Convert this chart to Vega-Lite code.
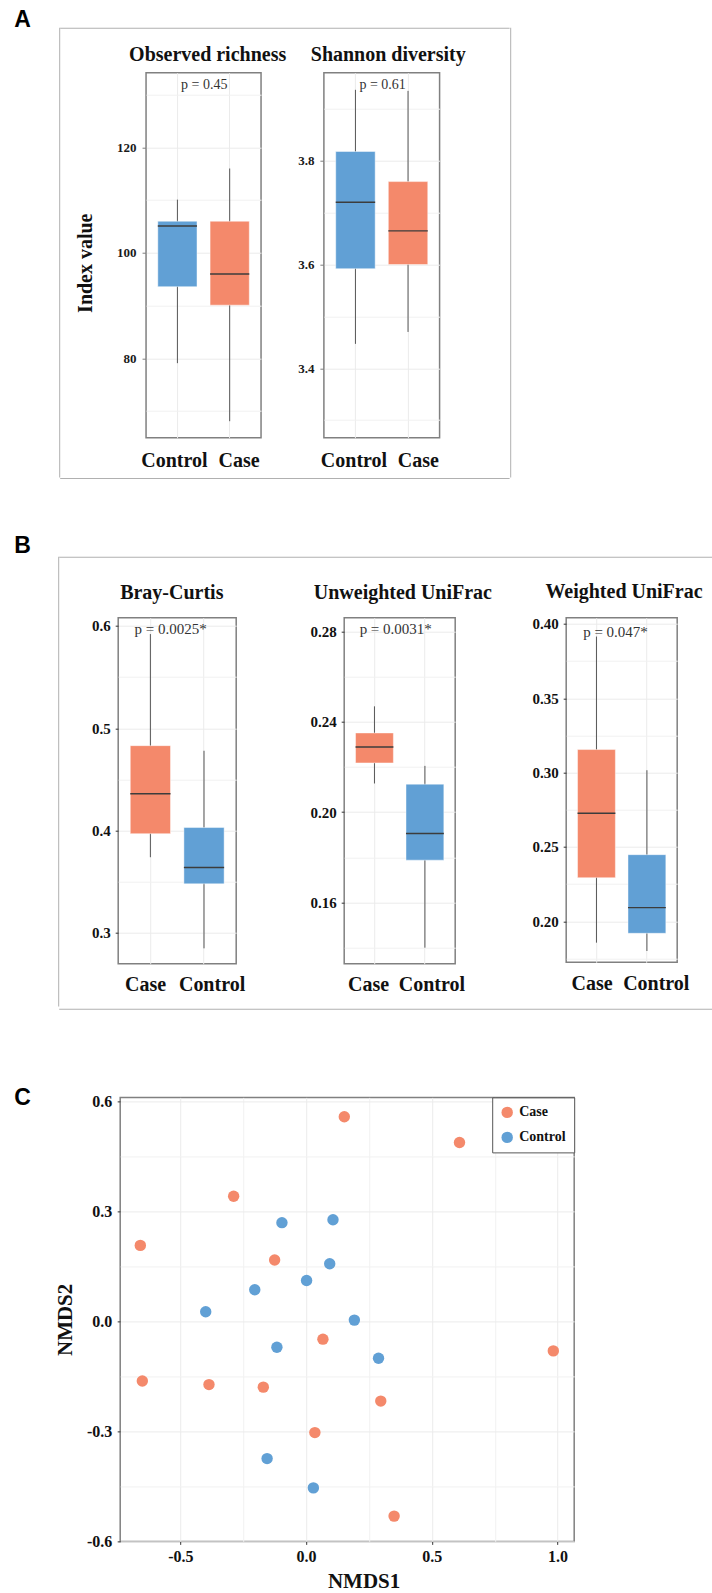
{
  "$schema": "https://vega.github.io/schema/vega-lite/v6.json",
  "padding": {"left": 14.2, "top": 8.7, "right": 0, "bottom": 0},
  "background": "white",
  "datasets": {
    "box": [
      {"metric": "Observed richness", "group": "Control", "lower": 79.1, "q1": 93.6, "median": 105.1, "q3": 106.0, "upper": 110.1},
      {"metric": "Observed richness", "group": "Case", "lower": 68.1, "q1": 90.1, "median": 96.0, "q3": 106.0, "upper": 116.0},
      {"metric": "Shannon diversity", "group": "Control", "lower": 3.447, "q1": 3.592, "median": 3.72, "q3": 3.818, "upper": 3.937},
      {"metric": "Shannon diversity", "group": "Case", "lower": 3.47, "q1": 3.6, "median": 3.665, "q3": 3.76, "upper": 3.935},
      {"metric": "Bray-Curtis", "group": "Case", "lower": 0.374, "q1": 0.397, "median": 0.436, "q3": 0.483, "upper": 0.592},
      {"metric": "Bray-Curtis", "group": "Control", "lower": 0.285, "q1": 0.348, "median": 0.364, "q3": 0.403, "upper": 0.478},
      {"metric": "Unweighted UniFrac", "group": "Case", "lower": 0.2127, "q1": 0.2218, "median": 0.2289, "q3": 0.2351, "upper": 0.2469},
      {"metric": "Unweighted UniFrac", "group": "Control", "lower": 0.1399, "q1": 0.1787, "median": 0.1905, "q3": 0.2124, "upper": 0.2205},
      {"metric": "Weighted UniFrac", "group": "Case", "lower": 0.1856, "q1": 0.2293, "median": 0.2727, "q3": 0.3155, "upper": 0.3915},
      {"metric": "Weighted UniFrac", "group": "Control", "lower": 0.18, "q1": 0.1919, "median": 0.2092, "q3": 0.2448, "upper": 0.3016}
    ],
    "pvals": [
      {"metric": "Observed richness", "p": "p = 0.45", "label_y": 131.1},
      {"metric": "Shannon diversity", "p": "p = 0.61", "label_y": 3.939},
      {"metric": "Bray-Curtis", "p": "p = 0.0025*", "label_y": 0.592},
      {"metric": "Unweighted UniFrac", "p": "p = 0.0031*", "label_y": 0.279},
      {"metric": "Weighted UniFrac", "p": "p = 0.047*", "label_y": 0.3915}
    ],
    "nmds": [
      {"group": "Case", "NMDS1": 0.152, "NMDS2": 0.559},
      {"group": "Case", "NMDS1": 0.61, "NMDS2": 0.489},
      {"group": "Case", "NMDS1": -0.288, "NMDS2": 0.342},
      {"group": "Case", "NMDS1": -0.659, "NMDS2": 0.208},
      {"group": "Case", "NMDS1": -0.125, "NMDS2": 0.168},
      {"group": "Case", "NMDS1": 0.067, "NMDS2": -0.048},
      {"group": "Case", "NMDS1": 0.983, "NMDS2": -0.08},
      {"group": "Case", "NMDS1": -0.651, "NMDS2": -0.162},
      {"group": "Case", "NMDS1": -0.386, "NMDS2": -0.172},
      {"group": "Case", "NMDS1": -0.17, "NMDS2": -0.179},
      {"group": "Case", "NMDS1": 0.297, "NMDS2": -0.217},
      {"group": "Case", "NMDS1": 0.035, "NMDS2": -0.303},
      {"group": "Case", "NMDS1": 0.35, "NMDS2": -0.531},
      {"group": "Control", "NMDS1": -0.096, "NMDS2": 0.27},
      {"group": "Control", "NMDS1": 0.107, "NMDS2": 0.278},
      {"group": "Control", "NMDS1": 0.094, "NMDS2": 0.158},
      {"group": "Control", "NMDS1": 0.002, "NMDS2": 0.112},
      {"group": "Control", "NMDS1": -0.204, "NMDS2": 0.087},
      {"group": "Control", "NMDS1": -0.399, "NMDS2": 0.027},
      {"group": "Control", "NMDS1": 0.192, "NMDS2": 0.004},
      {"group": "Control", "NMDS1": -0.116, "NMDS2": -0.07},
      {"group": "Control", "NMDS1": 0.288, "NMDS2": -0.1},
      {"group": "Control", "NMDS1": -0.155, "NMDS2": -0.374},
      {"group": "Control", "NMDS1": 0.029, "NMDS2": -0.454}
    ]
  },
  "config": {
    "locale": {"number": {"decimal": ".", "thousands": ",", "grouping": [3], "currency": ["$", ""], "minus": "-"}},
    "view": {"stroke": "#808080", "strokeWidth": 1.5},
    "title": {"font": "Liberation Serif", "fontSize": 20, "fontWeight": "bold", "color": "#111111", "baseline": "alphabetic", "frame": "group", "anchor": "middle"},
    "axis": {"labelFont": "Liberation Serif", "labelFontWeight": "bold", "labelColor": "#1a1a1a", "titleFont": "Liberation Serif", "titleFontWeight": "bold", "titleColor": "#111111", "gridColor": "#EBEBEB", "gridWidth": 1, "domain": false, "labelFlush": false},
    "legend": {"orient": "top-right", "offset": 0, "padding": 8, "strokeColor": "#555555", "fillColor": "white", "symbolType": "circle", "symbolSize": 130, "symbolStrokeWidth": 0, "labelFont": "Liberation Serif", "labelFontWeight": "bold", "labelFontSize": 14, "labelColor": "#111111", "rowPadding": 11, "labelOffset": 5}
  },
  "resolve": {"scale": {"color": "independent"}, "legend": {"color": "independent"}},
  "spacing": 76.7,
  "vconcat": [
    {
      "spacing": 55,
      "vconcat": [
        {
          "spacing": 0,
          "hconcat": [
            {
              "width": 45, "height": 1,
              "view": {"stroke": null},
              "title": {"text": "A", "font": "Liberation Sans", "fontSize": 23, "fontWeight": "bold", "color": "#000000", "anchor": "start", "frame": "group", "offset": -4.4},
              "data": {"values": [{}]},
              "mark": {"type": "text", "text": "", "fontSize": 0},
              "encoding": {}
            },
            {
              "width": 1, "height": 449.7,
              "view": {"fill": "#B0B0B0", "stroke": null},
              "data": {"values": [{}]},
              "mark": {"type": "text", "text": "", "fontSize": 0},
              "encoding": {}
            },
            {
              "spacing": 6.3,
              "vconcat": [
                {
                  "spacing": 15,
                  "vconcat": [
                    {
                      "width": 449.4, "height": 1,
                      "view": {"fill": "#B0B0B0", "stroke": null},
                      "data": {"values": [{}]},
                      "mark": {"type": "text", "text": "", "fontSize": 0},
                      "encoding": {}
                    },
                    {
                      "spacing": 9.85,
                      "hconcat": [
                        {
                          "width": 4.25, "height": 1,
                          "view": {"stroke": null},
                          "data": {"values": [{}]},
                          "mark": {"type": "text", "text": "", "fontSize": 0},
                          "encoding": {}
                        },
                        {
                          "width": 115, "height": 365,
                          "title": {"text": "Observed richness", "dx": 4.1, "offset": 7.95},
                          "resolve": {"scale": {"x": "independent"}, "axis": {"x": "independent", "y": "independent"}},
                          "layer": [
                            {
                              "data": {"name": "box"},
                              "transform": [{"filter": "datum.metric === 'Observed richness'"}],
                              "mark": {"type": "rule", "color": "#555555", "strokeWidth": 1},
                              "encoding": {
                                "x": {"field": "group", "type": "nominal", "sort": ["Control", "Case"], "scale": {"paddingInner": 0, "paddingOuter": 0.1},
                                  "axis": {"orient": "top", "title": null, "labels": false, "ticks": false, "domain": false, "grid": true, "bandPosition": 0.5}},
                                "y": {"field": "lower", "type": "quantitative", "scale": {"domain": [64.97, 134.16], "nice": false, "zero": false},
                                  "axis": {"values": [80, 100, 120], "format": "d", "grid": true, "tickColor": "#808080", "tickSize": 4, "labelPadding": 6, "labelFontSize": 13, "title": "Index value", "titleFontSize": 20, "titlePadding": 20.7, "titleY": 190}},
                                "y2": {"field": "upper"}
                              }
                            },
                            {
                              "data": {"name": "box"},
                              "transform": [{"filter": "datum.metric === 'Observed richness'"}],
                              "mark": {"type": "bar", "width": {"band": 0.75}, "stroke": "#ffffff", "strokeOpacity": 0.45, "strokeWidth": 1},
                              "encoding": {
                                "x": {"field": "group", "type": "nominal", "sort": ["Control", "Case"], "scale": {"paddingInner": 0, "paddingOuter": 0.1}, "axis": null},
                                "y": {"field": "q1", "type": "quantitative", "axis": {"orient": "right", "values": [70, 90, 110, 130], "grid": true, "gridColor": "#F1F1F1", "labels": false, "ticks": false, "domain": false, "title": null}},
                                "y2": {"field": "q3"},
                                "color": {"field": "group", "type": "nominal", "scale": {"domain": ["Case", "Control"], "range": ["#F4896B", "#61A0D5"]}, "legend": null}
                              }
                            },
                            {
                              "data": {"name": "box"},
                              "transform": [{"filter": "datum.metric === 'Observed richness'"}],
                              "mark": {"type": "bar", "width": {"band": 0.75}, "fill": "transparent", "stroke": "#3C3C3C", "strokeWidth": 1.4},
                              "encoding": {
                                "x": {"field": "group", "type": "nominal", "sort": ["Control", "Case"], "scale": {"paddingInner": 0, "paddingOuter": 0.1}, "axis": null},
                                "y": {"field": "median", "type": "quantitative", "axis": null},
                                "y2": {"field": "median"}
                              }
                            },
                            {
                              "data": {"name": "pvals"},
                              "transform": [{"filter": "datum.metric === 'Observed richness'"}],
                              "mark": {"type": "text", "font": "Liberation Serif", "fontSize": 14, "color": "#333333", "baseline": "alphabetic", "align": "center", "dx": 0.7},
                              "encoding": {
                                "y": {"field": "label_y", "type": "quantitative", "axis": null},
                                "text": {"field": "p"}
                              }
                            },
                            {
                              "data": {"name": "box"},
                              "transform": [{"filter": "datum.metric === 'Observed richness'"}],
                              "mark": {"type": "rule", "opacity": 0},
                              "encoding": {
                                "x": {"field": "group", "type": "nominal", "sort": ["Control", "Case"], "scale": {"type": "point", "padding": 0.389},
                                  "axis": {"orient": "bottom", "title": null, "ticks": false, "tickSize": 0, "grid": false, "domain": false, "labelAngle": 0, "labelFontSize": 20, "labelPadding": 12.7, "labelColor": "#111111", "labelOffset": 2.7}}
                              }
                            }
                          ]
                        },
                        {
                          "width": 115.7, "height": 365,
                          "title": {"text": "Shannon diversity", "dx": 6.5, "offset": 7.95},
                          "resolve": {"scale": {"x": "independent"}, "axis": {"x": "independent", "y": "independent"}},
                          "layer": [
                            {
                              "data": {"name": "box"},
                              "transform": [{"filter": "datum.metric === 'Shannon diversity'"}],
                              "mark": {"type": "rule", "color": "#555555", "strokeWidth": 1},
                              "encoding": {
                                "x": {"field": "group", "type": "nominal", "sort": ["Control", "Case"], "scale": {"paddingInner": 0, "paddingOuter": 0.1},
                                  "axis": {"orient": "top", "title": null, "labels": false, "ticks": false, "domain": false, "grid": true, "bandPosition": 0.5}},
                                "y": {"field": "lower", "type": "quantitative", "scale": {"domain": [3.266, 3.97], "nice": false, "zero": false},
                                  "axis": {"values": [3.4, 3.6, 3.8], "format": ".1f", "grid": true, "tickColor": "#808080", "tickSize": 4, "labelPadding": 6, "labelFontSize": 13, "title": null}},
                                "y2": {"field": "upper"}
                              }
                            },
                            {
                              "data": {"name": "box"},
                              "transform": [{"filter": "datum.metric === 'Shannon diversity'"}],
                              "mark": {"type": "bar", "width": {"band": 0.75}, "stroke": "#ffffff", "strokeOpacity": 0.45, "strokeWidth": 1},
                              "encoding": {
                                "x": {"field": "group", "type": "nominal", "sort": ["Control", "Case"], "scale": {"paddingInner": 0, "paddingOuter": 0.1}, "axis": null},
                                "y": {"field": "q1", "type": "quantitative", "axis": {"orient": "right", "values": [3.3, 3.5, 3.7, 3.9], "grid": true, "gridColor": "#F1F1F1", "labels": false, "ticks": false, "domain": false, "title": null}},
                                "y2": {"field": "q3"},
                                "color": {"field": "group", "type": "nominal", "scale": {"domain": ["Case", "Control"], "range": ["#F4896B", "#61A0D5"]}, "legend": null}
                              }
                            },
                            {
                              "data": {"name": "box"},
                              "transform": [{"filter": "datum.metric === 'Shannon diversity'"}],
                              "mark": {"type": "bar", "width": {"band": 0.75}, "fill": "transparent", "stroke": "#3C3C3C", "strokeWidth": 1.4},
                              "encoding": {
                                "x": {"field": "group", "type": "nominal", "sort": ["Control", "Case"], "scale": {"paddingInner": 0, "paddingOuter": 0.1}, "axis": null},
                                "y": {"field": "median", "type": "quantitative", "axis": null},
                                "y2": {"field": "median"}
                              }
                            },
                            {
                              "data": {"name": "pvals"},
                              "transform": [{"filter": "datum.metric === 'Shannon diversity'"}],
                              "mark": {"type": "text", "font": "Liberation Serif", "fontSize": 14, "color": "#333333", "baseline": "alphabetic", "align": "center", "dx": 0.9},
                              "encoding": {
                                "y": {"field": "label_y", "type": "quantitative", "axis": null},
                                "text": {"field": "p"}
                              }
                            },
                            {
                              "data": {"name": "box"},
                              "transform": [{"filter": "datum.metric === 'Shannon diversity'"}],
                              "mark": {"type": "rule", "opacity": 0},
                              "encoding": {
                                "x": {"field": "group", "type": "nominal", "sort": ["Control", "Case"], "scale": {"type": "point", "padding": 0.399},
                                  "axis": {"orient": "bottom", "title": null, "ticks": false, "tickSize": 0, "grid": false, "domain": false, "labelAngle": 0, "labelFontSize": 20, "labelPadding": 12.7, "labelColor": "#111111", "labelOffset": 3.9}}
                              }
                            }
                          ]
                        }
                      ]
                    }
                  ]
                },
                {
                  "width": 449.4, "height": 1,
                  "view": {"fill": "#B0B0B0", "stroke": null},
                  "data": {"values": [{}]},
                  "mark": {"type": "text", "text": "", "fontSize": 0},
                  "encoding": {}
                }
              ]
            },
            {
              "width": 1, "height": 449.7,
              "view": {"fill": "#B0B0B0", "stroke": null},
              "data": {"values": [{}]},
              "mark": {"type": "text", "text": "", "fontSize": 0},
              "encoding": {}
            }
          ]
        },
        {
          "spacing": 0,
          "hconcat": [
            {
              "width": 43.9, "height": 1,
              "view": {"stroke": null},
              "title": {"text": "B", "font": "Liberation Sans", "fontSize": 23, "fontWeight": "bold", "color": "#000000", "anchor": "start", "frame": "group", "offset": -1},
              "data": {"values": [{}]},
              "mark": {"type": "text", "text": "", "fontSize": 0},
              "encoding": {}
            },
            {
              "width": 1, "height": 449.7,
              "view": {"fill": "#B0B0B0", "stroke": null},
              "data": {"values": [{}]},
              "mark": {"type": "text", "text": "", "fontSize": 0},
              "encoding": {}
            },
            {
              "spacing": 12,
              "vconcat": [
                {
                  "spacing": 23,
                  "vconcat": [
                    {
                      "width": 652.9, "height": 1,
                      "view": {"fill": "#B0B0B0", "stroke": null},
                      "data": {"values": [{}]},
                      "mark": {"type": "text", "text": "", "fontSize": 0},
                      "encoding": {}
                    },
                    {
                      "spacing": 10,
                      "hconcat": [
                        {
                          "width": 20.8, "height": 1,
                          "view": {"stroke": null},
                          "data": {"values": [{}]},
                          "mark": {"type": "text", "text": "", "fontSize": 0},
                          "encoding": {}
                        },
                        {
                          "width": 118, "height": 346,
                          "title": {"text": "Bray-Curtis", "dx": -5.4, "offset": 14.65},
                          "resolve": {"scale": {"x": "independent"}, "axis": {"x": "independent", "y": "independent"}},
                          "layer": [
                            {
                              "data": {"name": "box"},
                              "transform": [{"filter": "datum.metric === 'Bray-Curtis'"}],
                              "mark": {"type": "rule", "color": "#555555", "strokeWidth": 1},
                              "encoding": {
                                "x": {"field": "group", "type": "nominal", "sort": ["Case", "Control"], "scale": {"paddingInner": 0, "paddingOuter": 0.1},
                                  "axis": {"orient": "top", "title": null, "labels": false, "ticks": false, "domain": false, "grid": true, "bandPosition": 0.5}},
                                "y": {"field": "lower", "type": "quantitative", "scale": {"domain": [0.27, 0.608], "nice": false, "zero": false},
                                  "axis": {"values": [0.3, 0.4, 0.5, 0.6], "format": ".1f", "grid": true, "tickColor": "#333333", "tickSize": 3, "labelPadding": 5, "labelFontSize": 15, "labelColor": "#111111", "title": null}},
                                "y2": {"field": "upper"}
                              }
                            },
                            {
                              "data": {"name": "box"},
                              "transform": [{"filter": "datum.metric === 'Bray-Curtis'"}],
                              "mark": {"type": "bar", "width": {"band": 0.75}, "stroke": "#ffffff", "strokeOpacity": 0.45, "strokeWidth": 1},
                              "encoding": {
                                "x": {"field": "group", "type": "nominal", "sort": ["Case", "Control"], "scale": {"paddingInner": 0, "paddingOuter": 0.1}, "axis": null},
                                "y": {"field": "q1", "type": "quantitative", "axis": {"orient": "right", "values": [0.35, 0.45, 0.55], "grid": true, "gridColor": "#F1F1F1", "labels": false, "ticks": false, "domain": false, "title": null}},
                                "y2": {"field": "q3"},
                                "color": {"field": "group", "type": "nominal", "scale": {"domain": ["Case", "Control"], "range": ["#F4896B", "#61A0D5"]}, "legend": null}
                              }
                            },
                            {
                              "data": {"name": "box"},
                              "transform": [{"filter": "datum.metric === 'Bray-Curtis'"}],
                              "mark": {"type": "bar", "width": {"band": 0.75}, "fill": "transparent", "stroke": "#3C3C3C", "strokeWidth": 1.4},
                              "encoding": {
                                "x": {"field": "group", "type": "nominal", "sort": ["Case", "Control"], "scale": {"paddingInner": 0, "paddingOuter": 0.1}, "axis": null},
                                "y": {"field": "median", "type": "quantitative", "axis": null},
                                "y2": {"field": "median"}
                              }
                            },
                            {
                              "data": {"name": "pvals"},
                              "transform": [{"filter": "datum.metric === 'Bray-Curtis'"}],
                              "mark": {"type": "text", "font": "Liberation Serif", "fontSize": 15, "color": "#333333", "baseline": "alphabetic", "align": "center", "dx": -6.6},
                              "encoding": {
                                "y": {"field": "label_y", "type": "quantitative", "axis": null},
                                "text": {"field": "p"}
                              }
                            },
                            {
                              "data": {"name": "box"},
                              "transform": [{"filter": "datum.metric === 'Bray-Curtis'"}],
                              "mark": {"type": "rule", "opacity": 0},
                              "encoding": {
                                "x": {"field": "group", "type": "nominal", "sort": ["Case", "Control"], "scale": {"type": "point", "padding": 0.3865},
                                  "axis": {"orient": "bottom", "title": null, "ticks": false, "tickSize": 0, "grid": false, "domain": false, "labelAngle": 0, "labelFontSize": 20, "labelPadding": 11.3, "labelColor": "#111111", "labelOffset": 1.1}}
                              }
                            }
                          ]
                        },
                        {
                          "width": 42.3, "height": 1,
                          "view": {"stroke": null},
                          "data": {"values": [{}]},
                          "mark": {"type": "text", "text": "", "fontSize": 0},
                          "encoding": {}
                        },
                        {
                          "width": 111, "height": 346,
                          "title": {"text": "Unweighted UniFrac", "dx": 3.2, "offset": 14.65},
                          "resolve": {"scale": {"x": "independent"}, "axis": {"x": "independent", "y": "independent"}},
                          "layer": [
                            {
                              "data": {"name": "box"},
                              "transform": [{"filter": "datum.metric === 'Unweighted UniFrac'"}],
                              "mark": {"type": "rule", "color": "#555555", "strokeWidth": 1},
                              "encoding": {
                                "x": {"field": "group", "type": "nominal", "sort": ["Case", "Control"], "scale": {"paddingInner": 0, "paddingOuter": 0.1},
                                  "axis": {"orient": "top", "title": null, "labels": false, "ticks": false, "domain": false, "grid": true, "bandPosition": 0.5}},
                                "y": {"field": "lower", "type": "quantitative", "scale": {"domain": [0.1328, 0.2862], "nice": false, "zero": false},
                                  "axis": {"values": [0.16, 0.2, 0.24, 0.28], "format": ".2f", "grid": true, "tickColor": "#333333", "tickSize": 3, "labelPadding": 5, "labelFontSize": 15, "labelColor": "#111111", "title": null}},
                                "y2": {"field": "upper"}
                              }
                            },
                            {
                              "data": {"name": "box"},
                              "transform": [{"filter": "datum.metric === 'Unweighted UniFrac'"}],
                              "mark": {"type": "bar", "width": {"band": 0.75}, "stroke": "#ffffff", "strokeOpacity": 0.45, "strokeWidth": 1},
                              "encoding": {
                                "x": {"field": "group", "type": "nominal", "sort": ["Case", "Control"], "scale": {"paddingInner": 0, "paddingOuter": 0.1}, "axis": null},
                                "y": {"field": "q1", "type": "quantitative", "axis": {"orient": "right", "values": [0.14, 0.18, 0.22, 0.26], "grid": true, "gridColor": "#F1F1F1", "labels": false, "ticks": false, "domain": false, "title": null}},
                                "y2": {"field": "q3"},
                                "color": {"field": "group", "type": "nominal", "scale": {"domain": ["Case", "Control"], "range": ["#F4896B", "#61A0D5"]}, "legend": null}
                              }
                            },
                            {
                              "data": {"name": "box"},
                              "transform": [{"filter": "datum.metric === 'Unweighted UniFrac'"}],
                              "mark": {"type": "bar", "width": {"band": 0.75}, "fill": "transparent", "stroke": "#3C3C3C", "strokeWidth": 1.4},
                              "encoding": {
                                "x": {"field": "group", "type": "nominal", "sort": ["Case", "Control"], "scale": {"paddingInner": 0, "paddingOuter": 0.1}, "axis": null},
                                "y": {"field": "median", "type": "quantitative", "axis": null},
                                "y2": {"field": "median"}
                              }
                            },
                            {
                              "data": {"name": "pvals"},
                              "transform": [{"filter": "datum.metric === 'Unweighted UniFrac'"}],
                              "mark": {"type": "text", "font": "Liberation Serif", "fontSize": 15, "color": "#333333", "baseline": "alphabetic", "align": "center", "dx": -4},
                              "encoding": {
                                "y": {"field": "label_y", "type": "quantitative", "axis": null},
                                "text": {"field": "p"}
                              }
                            },
                            {
                              "data": {"name": "box"},
                              "transform": [{"filter": "datum.metric === 'Unweighted UniFrac'"}],
                              "mark": {"type": "rule", "opacity": 0},
                              "encoding": {
                                "x": {"field": "group", "type": "nominal", "sort": ["Case", "Control"], "scale": {"type": "point", "padding": 0.3757},
                                  "axis": {"orient": "bottom", "title": null, "ticks": false, "tickSize": 0, "grid": false, "domain": false, "labelAngle": 0, "labelFontSize": 20, "labelPadding": 11.3, "labelColor": "#111111", "labelOffset": 0}}
                              }
                            }
                          ]
                        },
                        {
                          "width": 17.3, "height": 1,
                          "view": {"stroke": null},
                          "data": {"values": [{}]},
                          "mark": {"type": "text", "text": "", "fontSize": 0},
                          "encoding": {}
                        },
                        {
                          "width": 111, "height": 344.6,
                          "title": {"text": "Weighted UniFrac", "dx": 2.3, "offset": 15.35},
                          "resolve": {"scale": {"x": "independent"}, "axis": {"x": "independent", "y": "independent"}},
                          "layer": [
                            {
                              "data": {"name": "box"},
                              "transform": [{"filter": "datum.metric === 'Weighted UniFrac'"}],
                              "mark": {"type": "rule", "color": "#555555", "strokeWidth": 1},
                              "encoding": {
                                "x": {"field": "group", "type": "nominal", "sort": ["Case", "Control"], "scale": {"paddingInner": 0, "paddingOuter": 0.1},
                                  "axis": {"orient": "top", "title": null, "labels": false, "ticks": false, "domain": false, "grid": true, "bandPosition": 0.5}},
                                "y": {"field": "lower", "type": "quantitative", "scale": {"domain": [0.1724, 0.4042], "nice": false, "zero": false},
                                  "axis": {"values": [0.2, 0.25, 0.3, 0.35, 0.4], "format": ".2f", "grid": true, "tickColor": "#333333", "tickSize": 3, "labelPadding": 5, "labelFontSize": 15, "labelColor": "#111111", "title": null}},
                                "y2": {"field": "upper"}
                              }
                            },
                            {
                              "data": {"name": "box"},
                              "transform": [{"filter": "datum.metric === 'Weighted UniFrac'"}],
                              "mark": {"type": "bar", "width": {"band": 0.75}, "stroke": "#ffffff", "strokeOpacity": 0.45, "strokeWidth": 1},
                              "encoding": {
                                "x": {"field": "group", "type": "nominal", "sort": ["Case", "Control"], "scale": {"paddingInner": 0, "paddingOuter": 0.1}, "axis": null},
                                "y": {"field": "q1", "type": "quantitative", "axis": {"orient": "right", "values": [0.175, 0.225, 0.275, 0.325, 0.375], "grid": true, "gridColor": "#F1F1F1", "labels": false, "ticks": false, "domain": false, "title": null}},
                                "y2": {"field": "q3"},
                                "color": {"field": "group", "type": "nominal", "scale": {"domain": ["Case", "Control"], "range": ["#F4896B", "#61A0D5"]}, "legend": null}
                              }
                            },
                            {
                              "data": {"name": "box"},
                              "transform": [{"filter": "datum.metric === 'Weighted UniFrac'"}],
                              "mark": {"type": "bar", "width": {"band": 0.75}, "fill": "transparent", "stroke": "#3C3C3C", "strokeWidth": 1.4},
                              "encoding": {
                                "x": {"field": "group", "type": "nominal", "sort": ["Case", "Control"], "scale": {"paddingInner": 0, "paddingOuter": 0.1}, "axis": null},
                                "y": {"field": "median", "type": "quantitative", "axis": null},
                                "y2": {"field": "median"}
                              }
                            },
                            {
                              "data": {"name": "pvals"},
                              "transform": [{"filter": "datum.metric === 'Weighted UniFrac'"}],
                              "mark": {"type": "text", "font": "Liberation Serif", "fontSize": 15, "color": "#333333", "baseline": "alphabetic", "align": "center", "dx": -6.2},
                              "encoding": {
                                "y": {"field": "label_y", "type": "quantitative", "axis": null},
                                "text": {"field": "p"}
                              }
                            },
                            {
                              "data": {"name": "box"},
                              "transform": [{"filter": "datum.metric === 'Weighted UniFrac'"}],
                              "mark": {"type": "rule", "opacity": 0},
                              "encoding": {
                                "x": {"field": "group", "type": "nominal", "sort": ["Case", "Control"], "scale": {"type": "point", "padding": 0.365},
                                  "axis": {"orient": "bottom", "title": null, "ticks": false, "tickSize": 0, "grid": false, "domain": false, "labelAngle": 0, "labelFontSize": 20, "labelPadding": 11.3, "labelColor": "#111111", "labelOffset": 2}}
                              }
                            }
                          ]
                        }
                      ]
                    }
                  ]
                },
                {
                  "width": 652.9, "height": 1,
                  "view": {"fill": "#B0B0B0", "stroke": null},
                  "data": {"values": [{}]},
                  "mark": {"type": "text", "text": "", "fontSize": 0},
                  "encoding": {}
                }
              ]
            }
          ]
        }
      ]
    },
    {
      "spacing": 0,
      "resolve": {"scale": {"color": "independent"}, "legend": {"color": "independent"}},
      "hconcat": [
        {
          "width": 40, "height": 1,
          "view": {"stroke": null},
          "title": {"text": "C", "font": "Liberation Sans", "fontSize": 23, "fontWeight": "bold", "color": "#000000", "anchor": "start", "frame": "group", "offset": -12.4},
          "data": {"values": [{}]},
          "mark": {"type": "text", "text": "", "fontSize": 0},
          "encoding": {}
        },
        {
          "width": 454, "height": 444,
          "data": {"name": "nmds"},
          "resolve": {"axis": {"x": "independent", "y": "independent"}},
          "layer": [
            {
              "mark": {"type": "point", "opacity": 0},
              "encoding": {
                "x": {"field": "NMDS1", "type": "quantitative", "scale": {"domain": [-0.739, 1.066], "nice": false, "zero": false},
                  "axis": {"orient": "top", "values": [-0.25, 0.25, 0.75], "grid": true, "gridColor": "#F1F1F1", "labels": false, "ticks": false, "domain": false, "title": null}},
                "y": {"field": "NMDS2", "type": "quantitative", "scale": {"domain": [-0.6, 0.612], "nice": false, "zero": false},
                  "axis": {"orient": "right", "values": [-0.45, -0.15, 0.15, 0.45], "grid": true, "gridColor": "#F1F1F1", "labels": false, "ticks": false, "domain": false, "title": null}}
              }
            },
            {
              "mark": {"type": "circle", "size": 130, "opacity": 1},
              "encoding": {
                "x": {"field": "NMDS1", "type": "quantitative",
                  "axis": {"values": [-0.5, 0, 0.5, 1], "format": ".1f", "grid": true, "tickColor": "#333333", "tickSize": 3, "labelPadding": 4, "labelFontSize": 16, "labelColor": "#111111", "title": "NMDS1", "titleFontSize": 21, "titlePadding": 6, "titleX": 243.4}},
                "y": {"field": "NMDS2", "type": "quantitative",
                  "axis": {"values": [-0.6, -0.3, 0, 0.3, 0.6], "format": ".1f", "grid": true, "tickColor": "#333333", "tickSize": 3, "labelPadding": 5.4, "labelFontSize": 16, "labelColor": "#111111", "title": "NMDS2", "titleFontSize": 21, "titlePadding": 10.5}},
                "color": {"field": "group", "type": "nominal", "scale": {"domain": ["Case", "Control"], "range": ["#F4896B", "#61A0D5"]}, "legend": {"title": null}}
              }
            }
          ]
        }
      ]
    }
  ]
}
